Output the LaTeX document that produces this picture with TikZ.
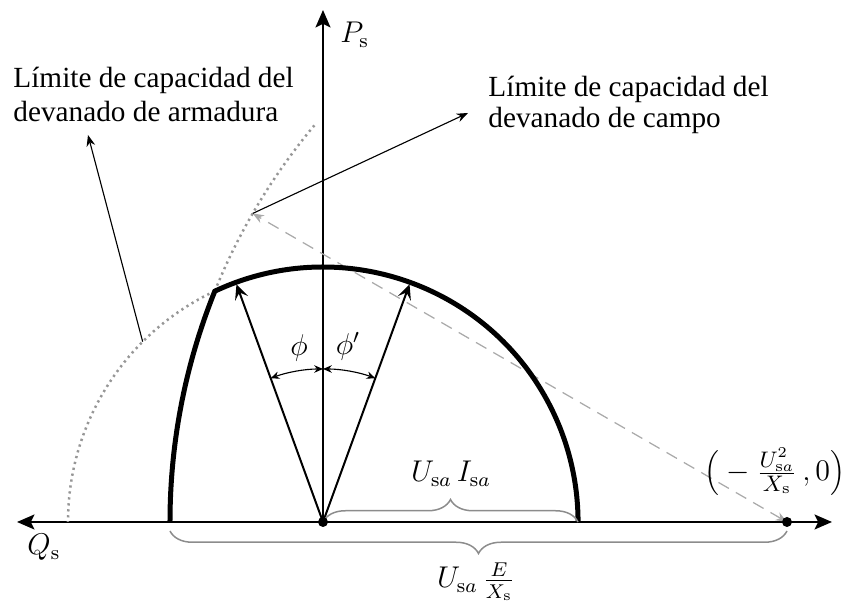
\documentclass[tikz,border=0pt]{standalone}
\usepackage{fontspec}
\newfontfamily\tnr{Liberation Serif}
\usetikzlibrary{arrows.meta,decorations.pathreplacing,calc}
\definecolor{dotgray}{RGB}{150,150,150}
\definecolor{dashgray}{RGB}{170,170,170}
\definecolor{bracegray}{RGB}{140,140,140}
\begin{document}
\begin{tikzpicture}[x=0.4pt,y=0.4pt,
  axisline/.style={line width=0.8pt},
  thickarc/.style={line width=2pt},
  dotarc/.style={line width=1pt, dotgray, dash pattern=on 0.9pt off 1.5pt},
  vecarrow/.style={line width=0.8pt,-{Stealth[length=6pt,width=5.5pt,inset=2.5pt]}},
  lblarrow/.style={line width=0.45pt,-{Stealth[length=4.5pt,width=3.5pt]}},
  angarrow/.style={line width=0.45pt,{Stealth[length=3.5pt,width=3pt]}-{Stealth[length=3.5pt,width=3pt]}},
  dasharrow/.style={line width=0.5pt, dashgray, dash pattern=on 4.8pt off 3.2pt,
     {Stealth[length=4.5pt,width=3.5pt]}-{Stealth[length=4.5pt,width=3.5pt]}},
  bracestyle/.style={line width=0.6pt, bracegray, decorate, decoration={brace, amplitude=9pt}},
  lbl/.style={font=\tnr\fontsize{11.7}{14}\selectfont, inner sep=0pt, anchor=base west},
  mth/.style={inner sep=0pt, font=\fontsize{12}{14}\selectfont}]
\useasboundingbox (-323,-83) rectangle (526,522);
% named points
\coordinate (O) at (0,0);
\coordinate (C) at (464,0);
\coordinate (xl) at (-306,0);
\coordinate (xr) at (509,0);
\coordinate (yt) at (0,512);
\coordinate (A135) at (135:255);
\coordinate (F) at ($(C)+(150:617)$);
\coordinate (tipL) at (-235,387);
\coordinate (tipR) at (145,409);
\coordinate (V1) at (110:253);
\coordinate (V2) at (70:253);
% axes
\draw[axisline,{Stealth[length=7pt,width=6pt,inset=1.5pt]}-{Stealth[length=7pt,width=6pt,inset=1.5pt]}] (xl) -- (xr);
\draw[axisline,-{Stealth[length=7pt,width=6pt,inset=1.5pt]}] (O) -- (yt);
% dotted continuations
\draw[dotarc] (115.12:255) arc[start angle=115.12,end angle=180,radius=255];
\draw[dotarc] ($(C)+(158.03:617)$) arc[start angle=158.03,end angle=140,radius=617];
% dashed radius of field circle
\draw[dasharrow] (C) -- (F);
% thick operating limit
\draw[thickarc] ($(C)+(180:617)$) arc[start angle=180,end angle=158.03,radius=617]
   arc[start angle=115.12,end angle=0,radius=255];
% vectors
\draw[vecarrow] (O) -- (V1);
\draw[vecarrow] (O) -- (V2);
% angle arcs
\draw[angarrow] (110:153) arc[start angle=110,end angle=90,radius=153];
\draw[angarrow] (70:153) arc[start angle=70,end angle=90,radius=153];
\node[mth] (phi) at (-24,174) {$\phi$};
\node[mth] (phip) at (25,176) {$\phi'$};
% braces
\draw[bracestyle] (0,0) -- (255,0);
\draw[bracestyle] (464,-9) -- (-153,-9);
% dots
\fill (O) circle[radius=5];
\fill (C) circle[radius=5];
% labels
\node[mth, anchor=base west] (Ps) at (17,479) {$P_{\mathrm{s}}$};
\node[mth, anchor=base west] (Qs) at (-296,-33) {$Q_{\mathrm{s}}$};
\node[mth, anchor=base] (uI) at (128,40) {$U_{\mathrm{s}a}\,I_{\mathrm{s}a}$};
\node[mth, anchor=base] (uE) at (153,-66) {$U_{\mathrm{s}a}\,\frac{E}{X_{\mathrm{s}}}$};
\node[mth, font=\fontsize{12.5}{14}\selectfont] (cl) at (452,50) {$\Big(-\frac{U_{\mathrm{s}a}^2}{X_{\mathrm{s}}}\,,0\Big)$};
\node[lbl] (L1) at (-310,434) {Límite de capacidad del};
\node[lbl] (L2) at (-310,400) {devanado de armadura};
\node[lbl] (R1) at (165,425) {Límite de capacidad del};
\node[lbl] (R2) at (165,394) {devanado de campo};
% label arrows
\draw[lblarrow] (A135) -- (tipL);
\draw[lblarrow] (F) -- (tipR);
\end{tikzpicture}
\end{document}
